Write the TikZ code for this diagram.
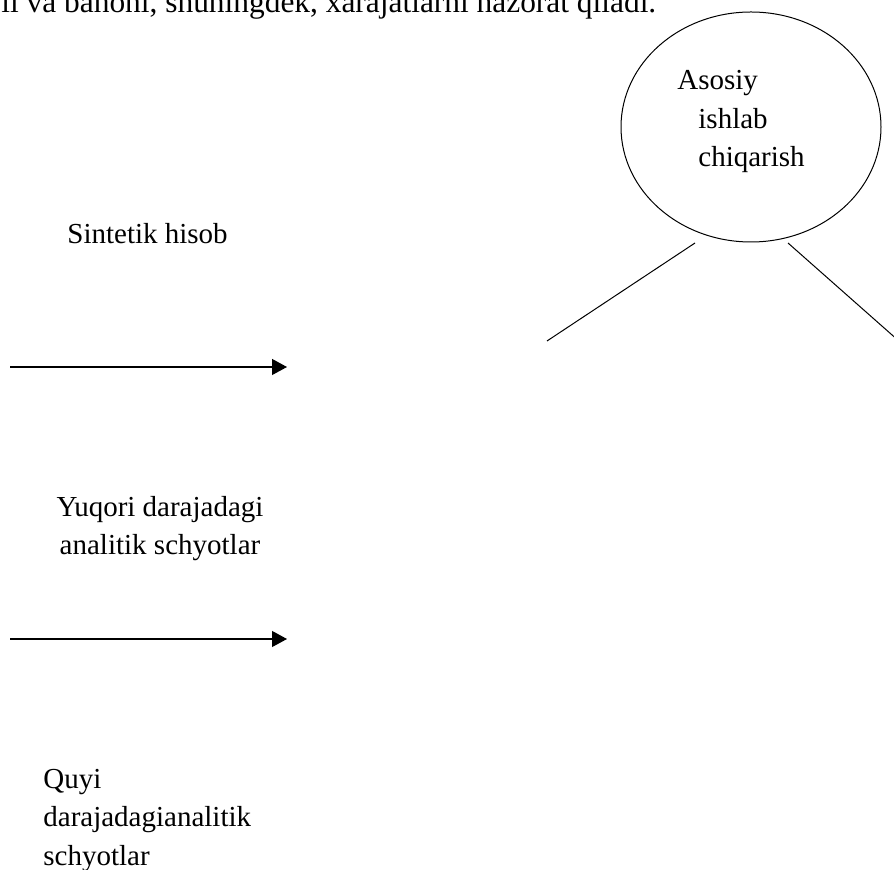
\documentclass[tikz,border=0pt]{standalone}
\usepackage{fontspec}
\setmainfont{Liberation Serif}
\usepackage{tikz}
\usetikzlibrary{shapes.geometric,arrows.meta}
\tikzset{>=stealth}
\tikzset{
  label text/.style={inner sep=0pt, anchor=base west, font=\fontsize{14.5}{19.25}\selectfont},
  flow arrow/.style={-{Triangle[length=7.5pt,width=8pt]}, line width=0.6pt},
  thin line/.style={line width=0.5pt}
}

\begin{document}
\begin{tikzpicture}[x=0.5pt,y=-0.5pt]
    \useasboundingbox (0,0) rectangle (894,870);
    \clip (0,0) rectangle (894,870);
    \node[inner sep=0pt, anchor=base west, font=\fontsize{15.7}{20}\selectfont] (pagetext) at (1,13) {li va bahoni, shuningdek, xarajatlarni nazorat qiladi.};
    \node[ellipse, draw, thin line, minimum width=130pt, minimum height=115pt] (prod) at (751,127) {};
    \node[label text, align=left] (prodtext) at (677,167) {Asosiy\\\hspace*{10.5pt}ishlab\\\hspace*{10.5pt}chiqarish};
    \coordinate (lefttop) at (695,243);
    \coordinate (leftend) at (547,341);
    \coordinate (righttop) at (788,243);
    \coordinate (rightend) at (900,342);
    \draw[thin line] (lefttop) -- (leftend);
    \draw[thin line] (righttop) -- (rightend);
    \node[label text] (synth) at (67,244) {Sintetik hisob};
    \coordinate (arrowa) at (10,367);
    \coordinate (arrowaend) at (287,367);
    \draw[flow arrow] (arrowa) -- (arrowaend);
    \node[label text, anchor=base, align=center] (upper) at (160,555) {Yuqori darajadagi\\analitik schyotlar};
    \coordinate (arrowb) at (10,639);
    \coordinate (arrowbend) at (287,639);
    \draw[flow arrow] (arrowb) -- (arrowbend);
    \node[label text, align=left] (lower) at (43,865) {Quyi\\darajadagianalitik\\schyotlar};
\end{tikzpicture}
\end{document}
